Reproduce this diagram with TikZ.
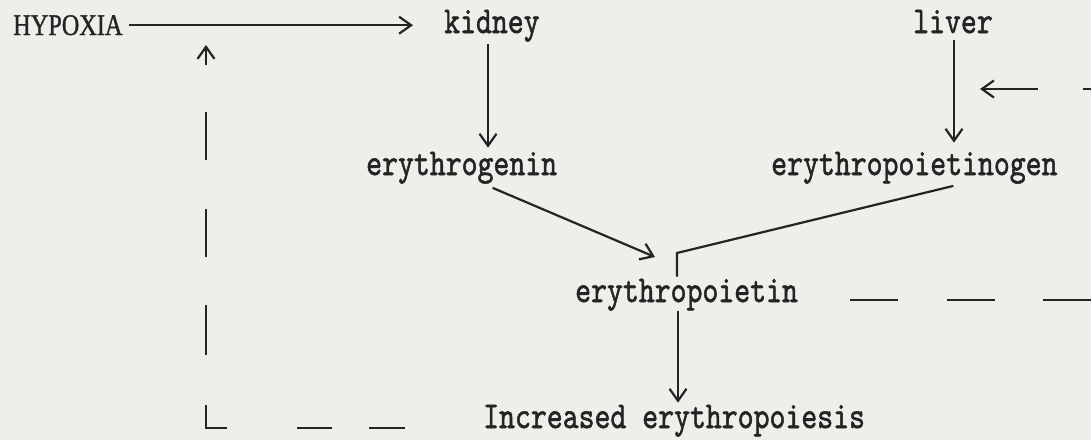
\documentclass[tikz,border=0pt]{standalone}
\usepackage{fontspec}
\newfontfamily\capfont{Liberation Serif}[FakeBold=1.2]
\newfontfamily\twfont{lmmono10-regular.otf}[FakeBold=1.6]
\usetikzlibrary{arrows.meta}
\definecolor{paper}{RGB}{238,238,235}
\definecolor{ink}{RGB}{36,36,36}
\newcommand\vtw[1]{\scalebox{1}[1.25]{#1}}
\begin{document}
\begin{tikzpicture}[x=1pt,y=-1pt,
  lbl/.style={inner sep=0pt, anchor=base west, text=ink, font=\fontsize{30.3}{36}\selectfont\twfont},
  caplbl/.style={inner sep=0pt, anchor=base west, text=ink, font=\fontsize{30}{36}\selectfont\capfont},
  tip/.style={-{Straight Barb[length=12pt,width=17pt,line width=2.2pt]}},
  arr/.style={tip, line width=2.2pt, draw=ink},
  ln/.style={line width=2.2pt, draw=ink, line join=miter},
  fbleft/.style={arr, dash pattern=on 0pt off 78pt on 36pt off 37pt on 35pt off 70pt on 44pt off 50pt on 50pt off 48pt on 48pt off 49pt on 48pt off 47pt on 30pt},
  fbright/.style={arr, dash pattern=on 0pt off 52pt on 48pt off 49pt on 48pt off 48pt on 335pt off 45pt on 60pt}
]
\fill[paper] (0,0) rectangle (1091,440);
\useasboundingbox (0,0) rectangle (1091,440);

% nodes
\node[caplbl] (hyp) at (13,35) {\scalebox{0.81}[1]{HYPOXIA}};
\node[lbl] (kid) at (444,33) {\vtw{kidney}};
\node[lbl] (liv) at (913,33) {\vtw{liver}};
\node[lbl] (eg)  at (366,175) {\vtw{erythrogenin}};
\node[lbl] (epg) at (771,175) {\vtw{erythropoietinogen}};
\node[lbl] (ep)  at (575,302) {\vtw{erythropoietin}};
\node[lbl] (inc) at (483,428) {\vtw{Increased erythropoiesis}};

% helper coordinates
\coordinate (kx) at (488,0);
\coordinate (lx) at (954,0);
\coordinate (ex) at (678,0);
\coordinate (j) at (677,253);
\coordinate (egtip) at (655,257);
\coordinate (hfb) at (206,45);
\coordinate (rtop) at (1125,89);
\coordinate (rfb) at (980,89);

% connectors
\draw[arr, shorten <=6pt, shorten >=31pt] (hyp.east) -- (hyp.east -| kid.west);
\draw[arr, shorten <=2pt, shorten >=4pt] (kid.south -| kx) -- (eg.north -| kx);
\draw[arr, shorten <=7pt, shorten >=9pt] (liv.south -| lx) -- (epg.north -| lx);
\draw[arr] ([xshift=31pt,yshift=-4pt]eg.south) -- (egtip);
\draw[ln, shorten >=2pt] ([xshift=39pt,yshift=-2pt]epg.south) -- (j) -- (j |- ep.north);
\draw[arr, shorten >=2pt] (ep.south -| ex) -- (inc.north -| ex);

% dashed feedback loops
\draw[fbleft] (inc.base west) -| (hfb);
\draw[fbright] ([yshift=2pt]ep.base east) -| (rtop) -- (rfb);
\end{tikzpicture}
\end{document}
